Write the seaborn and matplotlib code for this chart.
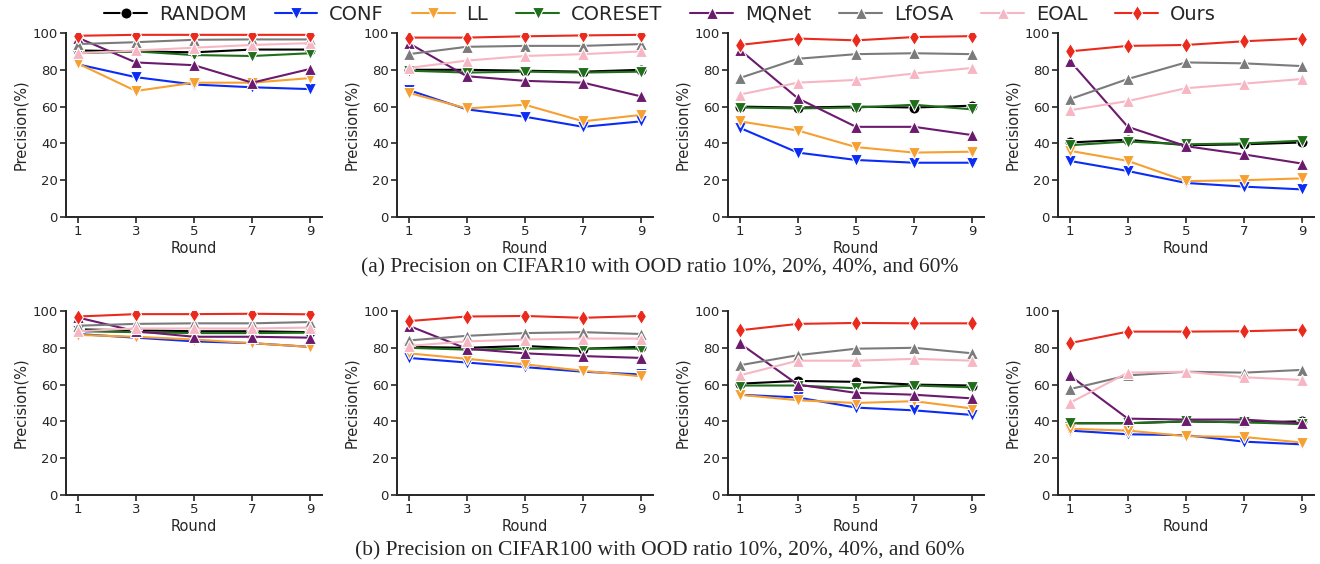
import pandas as pd
import numpy as np
import seaborn as sns
import matplotlib.pyplot as plt

###############################
######### data ################
###############################
rounds = [1, 3, 5, 7, 9]
methods = ['RANDOM', 'CONF', 'LL', 'CORESET', 'MQNet', 'LfOSA', 'EOAL', 'Ours']

# CIFAR10, OOD ratio 10/20/40/60
c10_10 = {
    'RANDOM':  [90.5, 90, 89.5, 91, 91],
    'CONF':    [83, 76, 72, 70.5, 69.5],
    'LL':      [83.5, 68.5, 73, 73, 75.5],
    'CORESET': [89, 90, 88, 87.5, 89],
    'MQNet':   [97.5, 84, 82.5, 73, 80.5],
    'LfOSA':   [94, 95, 96.3, 96.5, 96.5],
    'EOAL':    [89, 90.5, 92, 93.5, 94.5],
    'Ours':    [98.5, 99, 99, 99, 99],
}
c10_20 = {
    'RANDOM':  [80, 80, 79.5, 79, 80],
    'CONF':    [69, 58.5, 54.5, 49, 52],
    'LL':      [67.5, 59, 61, 52, 55.5],
    'CORESET': [79.5, 78.5, 79, 78.5, 79],
    'MQNet':   [94.5, 76.5, 74, 73, 65.5],
    'LfOSA':   [88.5, 92.5, 93, 93, 94],
    'EOAL':    [81, 85, 87.5, 88.5, 90],
    'Ours':    [97.5, 97.5, 98.2, 98.7, 99],
}
c10_40 = {
    'RANDOM':  [60, 59.5, 60, 59.5, 60.5],
    'CONF':    [48.5, 35, 31, 29.5, 29.5],
    'LL':      [52, 47, 38, 35, 35.5],
    'CORESET': [59.5, 59, 59.5, 61, 58.5],
    'MQNet':   [91, 64.5, 49, 49, 44.5],
    'LfOSA':   [75.5, 86, 88.5, 89, 88.5],
    'EOAL':    [66.5, 73, 74.5, 78, 81],
    'Ours':    [93.5, 97, 96, 97.8, 98.3],
}
c10_60 = {
    'RANDOM':  [40.5, 42, 39, 39.5, 40.5],
    'CONF':    [30.5, 25, 18.5, 16.5, 15],
    'LL':      [36, 30.5, 19.5, 20, 21],
    'CORESET': [39, 41, 39.5, 40, 41.5],
    'MQNet':   [85, 49, 38.5, 34, 29],
    'LfOSA':   [64, 75, 84, 83.5, 82],
    'EOAL':    [58, 63, 70, 72.5, 75],
    'Ours':    [90, 93, 93.5, 95.5, 97],
}

# CIFAR100, OOD ratio 10/20/40/60
c100_10 = {
    'RANDOM':  [90, 89.5, 89, 89, 88.5],
    'CONF':    [87.5, 85.5, 83.5, 82.5, 80.5],
    'LL':      [87, 86, 84.5, 82.5, 80.5],
    'CORESET': [89, 88.5, 88, 88, 88.2],
    'MQNet':   [96.5, 89, 86, 86, 85.5],
    'LfOSA':   [92, 93, 93.3, 93.3, 94],
    'EOAL':    [89, 90.5, 90.5, 90.5, 91],
    'Ours':    [97, 98.3, 98.3, 98.5, 98.2],
}
c100_20 = {
    'RANDOM':  [80.5, 80, 81, 79.5, 80.5],
    'CONF':    [74.5, 72, 69.5, 67, 65.5],
    'LL':      [77, 74, 71, 67.5, 64.5],
    'CORESET': [80, 79, 79.5, 79.5, 79.5],
    'MQNet':   [92, 79.5, 77, 75.5, 74.5],
    'LfOSA':   [84, 86.5, 88, 88.5, 87.5],
    'EOAL':    [81, 83.5, 84.5, 85, 85],
    'Ours':    [94.5, 97, 97.3, 96.3, 97.3],
}
c100_40 = {
    'RANDOM':  [60.5, 62, 61.5, 60, 59.5],
    'CONF':    [54.5, 53, 47.5, 46, 43.5],
    'LL':      [54.5, 51.5, 50, 51, 47],
    'CORESET': [59.5, 59.5, 58, 59.5, 58.5],
    'MQNet':   [82.5, 60, 55.5, 54.5, 52.5],
    'LfOSA':   [70.5, 76, 79.5, 80, 77],
    'EOAL':    [65, 73, 73, 74, 73],
    'Ours':    [89.5, 93, 93.5, 93.3, 93.3],
}
c100_60 = {
    'RANDOM':  [39, 39, 40, 39.5, 40],
    'CONF':    [35, 33, 32.5, 29, 27.5],
    'LL':      [36, 35, 32, 31.5, 28.5],
    'CORESET': [39, 39, 40, 39.5, 38.5],
    'MQNet':   [65, 41.5, 41, 41, 39],
    'LfOSA':   [57.5, 65, 67, 66.5, 68],
    'EOAL':    [50, 66.5, 67, 64, 62.5],
    'Ours':    [82.5, 88.8, 88.8, 89, 89.8],
}

captions = ['(a) Precision on CIFAR10 with OOD ratio 10%, 20%, 40%, and 60%',
            '(b) Precision on CIFAR100 with OOD ratio 10%, 20%, 40%, and 60%']


def to_long(d):
    rows = []
    for m in methods:
        for r, v in zip(rounds, d[m]):
            rows.append({'Round': r, 'Precision': v, 'Method': m})
    return pd.DataFrame(rows)


##############################
######## plot ################
##############################
sns.set_theme(style='ticks')
plt.rcParams['font.family'] = ['DejaVu Sans']

palette = {'RANDOM': '#000000', 'CONF': '#0a2cf5', 'LL': '#f5a031',
           'CORESET': '#1f6e1a', 'MQNet': '#6b1a6e', 'LfOSA': '#7b7b7b',
           'EOAL': '#f7b6c4', 'Ours': '#ea2a1c'}
markers = {'RANDOM': 'o', 'CONF': 'v', 'LL': 'v', 'CORESET': 'v',
           'MQNet': '^', 'LfOSA': '^', 'EOAL': '^', 'Ours': 'd'}

fig = plt.figure(figsize=(13.2, 5.64), dpi=100)

panels = [[c10_10, c10_20, c10_40, c10_60], [c100_10, c100_20, c100_40, c100_60]]
lefts = [66, 397, 728, 1058]
row_top = [33, 311]
ax_w, ax_h = 256, 184

handles, labels = None, None
for row in range(2):
    for col in range(4):
        rect = [lefts[col] / 1320, (564 - row_top[row] - ax_h) / 564, ax_w / 1320, ax_h / 564]
        ax = fig.add_axes(rect)
        df = to_long(panels[row][col])
        sns.lineplot(data=df, x='Round', y='Precision', hue='Method', style='Method',
                     hue_order=methods, style_order=methods,
                     palette=palette, markers=markers, dashes=False,
                     markersize=8, markeredgecolor='white', markeredgewidth=0.8,
                     linewidth=1.5, ax=ax)
        if handles is None:
            handles, labels = ax.get_legend_handles_labels()
        ax.legend_ = None
        ax.set(xticks=rounds, yticks=np.arange(0, 120, 20), ylim=[0, 100])
        ax.set_xlabel('Round', fontsize=10.5, labelpad=2)
        ax.set_ylabel('Precision(%)', fontsize=10.5, labelpad=3)
        ax.tick_params(labelsize=9.5, length=4, width=1.2, pad=2)
        for s in ['left', 'bottom']:
            ax.spines[s].set_linewidth(1.4)
        sns.despine(ax=ax)

fig.legend(handles, labels, loc='center', bbox_to_anchor=(0.5, 1 - 14 / 564), ncol=8,
           frameon=False, fontsize=14, handlelength=2.2, columnspacing=1.45,
           handletextpad=0.6, borderaxespad=0)

for i, cap in enumerate(captions):
    fig.text(0.5, 1 - [268, 551][i] / 564, cap, ha='center', va='center',
             fontsize=15.5, family='Liberation Serif')

fig.savefig('out.png', dpi=100)
